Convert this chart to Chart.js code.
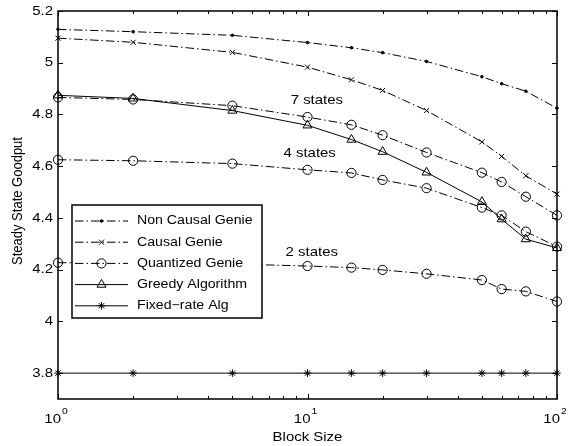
<!DOCTYPE html>
<html>
<head>
<meta charset="utf-8">
<script src="https://cdn.jsdelivr.net/npm/chart.js@4.4.0/dist/chart.umd.min.js"></script>
<style>
  html, body { margin: 0; padding: 0; background: #fff; }
  #wrap { width: 569px; height: 446px; }
</style>
</head>
<body>
<div id="wrap"><canvas id="goodputChart" width="569" height="446"></canvas></div>
<script>
const blockSize = [1, 2, 5, 10, 15, 20, 30, 50, 60, 75, 100];
const nonCausalGenie = [5.129, 5.120, 5.106, 5.078, 5.058, 5.039, 5.005, 4.946, 4.919, 4.890, 4.824];
const causalGenie = [5.095, 5.079, 5.040, 4.983, 4.934, 4.893, 4.815, 4.694, 4.638, 4.563, 4.492];
const quantized7 = [4.866, 4.858, 4.834, 4.790, 4.760, 4.720, 4.653, 4.575, 4.539, 4.482, 4.410];
const quantized4 = [4.625, 4.621, 4.610, 4.586, 4.574, 4.547, 4.515, 4.440, 4.410, 4.347, 4.289];
const quantized2 = [4.227, 4.225, 4.222, 4.214, 4.208, 4.199, 4.184, 4.160, 4.125, 4.116, 4.077];
const greedy = [4.874, 4.862, 4.815, 4.758, 4.703, 4.656, 4.576, 4.462, 4.395, 4.318, 4.284];
const fixedRate = [3.8, 3.8, 3.8, 3.8, 3.8, 3.8, 3.8, 3.8, 3.8, 3.8, 3.8];

const yTicks = [3.8, 4, 4.2, 4.4, 4.6, 4.8, 5, 5.2];
const xMajorTicks = [1, 10, 100];
const xTickLabels = ['0', '1', '2'];
const stateLabels = [
  { text: '7 states', x: 10.9, y: 4.854 },
  { text: '4 states', x: 10.2, y: 4.648 },
  { text: '2 states', x: 10.4, y: 4.265 }
];
const legendNames = ['Non Causal Genie', 'Causal Genie', 'Quantized Genie', 'Greedy Algorithm', 'Fixed\u2212rate Alg'];

const FONT = '"Liberation Sans", Arial, sans-serif';
const STRETCH = 1.15;
const dashDot = [8.5, 3, 1.5, 3];

const toPoints = ys => blockSize.map((x, i) => ({ x: x, y: ys[i] }));

const series = (data, style, radius, dash, fill) => ({
  data: toPoints(data),
  borderColor: '#000',
  borderWidth: 1,
  borderDash: dash,
  pointStyle: style,
  pointRadius: radius,
  pointBorderColor: '#000',
  pointBorderWidth: 1,
  pointBackgroundColor: fill ? '#000' : 'rgba(0,0,0,0)',
  tension: 0,
  fill: false,
  clip: false
});

const datasets = [
  series(nonCausalGenie, 'circle', 1.3, dashDot, true),
  series(causalGenie, 'crossRot', 3.6, dashDot, false),
  series(quantized7, 'circle', 4.6, dashDot, false),
  series(quantized4, 'circle', 4.6, dashDot, false),
  series(quantized2, 'circle', 4.6, dashDot, false),
  series(greedy, 'triangle', 5.2, [], false),
  series(fixedRate, 'star', 3.8, [], false)
];
const legendSets = [0, 1, 2, 5, 6];

const stretchText = (ctx, text, x, y, align) => {
  ctx.save();
  ctx.translate(x, y);
  ctx.scale(STRETCH, 1);
  ctx.textAlign = align;
  ctx.fillText(text, 0, 0);
  ctx.restore();
}

const drawMarker = (ctx, ds, x, y) => {
  ctx.save();
  ctx.strokeStyle = '#000';
  ctx.fillStyle = ds.pointBackgroundColor;
  ctx.lineWidth = 1;
  Chart.helpers.drawPoint(ctx, { pointStyle: ds.pointStyle, radius: ds.pointRadius, rotation: 0, borderWidth: 1 }, x, y);
  ctx.restore();
}

const matlabAxes = {
  id: 'matlabAxes',
  afterDatasetsDraw(chart) {
    const ctx = chart.ctx;
    const a = chart.chartArea;
    const xs = chart.scales.x;
    const ys = chart.scales.y;
    ctx.save();
    ctx.strokeStyle = '#000';
    ctx.fillStyle = '#000';

    // ticks, pointing inwards on all four sides
    ctx.lineWidth = 1;
    ctx.beginPath();
    for (let d = 1; d < 100; d *= 10) {
      for (let m = 1; m <= 10; m++) {
        const px = Math.round(xs.getPixelForValue(d * m)) + 0.5;
        const len = (m === 1 || m === 10) ? 5 : 3;
        ctx.moveTo(px, a.bottom); ctx.lineTo(px, a.bottom - len);
        ctx.moveTo(px, a.top); ctx.lineTo(px, a.top + len);
      }
    }
    yTicks.forEach(v => {
      const py = Math.round(ys.getPixelForValue(v)) + 0.5;
      ctx.moveTo(a.left, py); ctx.lineTo(a.left + 5, py);
      ctx.moveTo(a.right, py); ctx.lineTo(a.right - 5, py);
    });
    ctx.stroke();

    // frame
    ctx.lineWidth = 1.5;
    ctx.strokeRect(a.left, a.top, a.right - a.left, a.bottom - a.top);

    // y tick labels
    ctx.font = '13px ' + FONT;
    ctx.textBaseline = 'middle';
    yTicks.forEach(v => {
      stretchText(ctx, String(v), a.left - 5, ys.getPixelForValue(v), 'right');
    });

    // x tick labels 10^n
    ctx.textBaseline = 'alphabetic';
    xMajorTicks.forEach((v, i) => {
      const px = xs.getPixelForValue(v);
      ctx.font = '13px ' + FONT;
      stretchText(ctx, '10', px + 3, a.bottom + 24, 'right');
      ctx.font = '9px ' + FONT;
      stretchText(ctx, xTickLabels[i], px + 4, a.bottom + 15, 'left');
    });

    // axis titles
    ctx.font = '13px ' + FONT;
    stretchText(ctx, 'Block Size', (a.left + a.right) / 2, a.bottom + 42, 'center');
    ctx.save();
    ctx.translate(22, 201);
    ctx.rotate(-Math.PI / 2);
    ctx.textAlign = 'center';
    ctx.scale(1, STRETCH);
    ctx.fillText('Steady State Goodput', 0, 0);
    ctx.restore();

    // state annotations
    ctx.textBaseline = 'middle';
    stateLabels.forEach(s => {
      stretchText(ctx, s.text, xs.getPixelForValue(s.x), ys.getPixelForValue(s.y), 'center');
    });

    // legend
    const lx = 72, ly = 205, lw = 190, lh = 113;
    ctx.fillStyle = '#fff';
    ctx.fillRect(lx, ly, lw, lh);
    ctx.lineWidth = 1.5;
    ctx.strokeRect(lx, ly, lw, lh);
    ctx.font = '12.3px ' + FONT;
    legendSets.forEach((di, i) => {
      const ds = chart.data.datasets[di];
      const ry = ly + 16 + i * 21.2;
      ctx.save();
      ctx.lineWidth = 1;
      ctx.setLineDash(ds.borderDash);
      ctx.beginPath();
      ctx.moveTo(lx + 3, ry);
      ctx.lineTo(lx + 56, ry);
      ctx.stroke();
      ctx.restore();
      drawMarker(ctx, ds, lx + 29.5, ry);
      ctx.fillStyle = '#000';
      stretchText(ctx, legendNames[i], lx + 65, ry, 'left');
    });
    ctx.restore();
  }
};

new Chart(document.getElementById('goodputChart'), {
  type: 'line',
  data: { datasets: datasets },
  plugins: [matlabAxes],
  options: {
    responsive: false,
    animation: false,
    layout: { padding: { left: 58, right: 12, top: 11, bottom: 47 } },
    plugins: { legend: { display: false }, tooltip: { enabled: false } },
    scales: {
      x: { type: 'logarithmic', display: false, min: 1, max: 100 },
      y: { type: 'linear', display: false, min: 3.7, max: 5.2 }
    }
  }
});
</script>
</body>
</html>
